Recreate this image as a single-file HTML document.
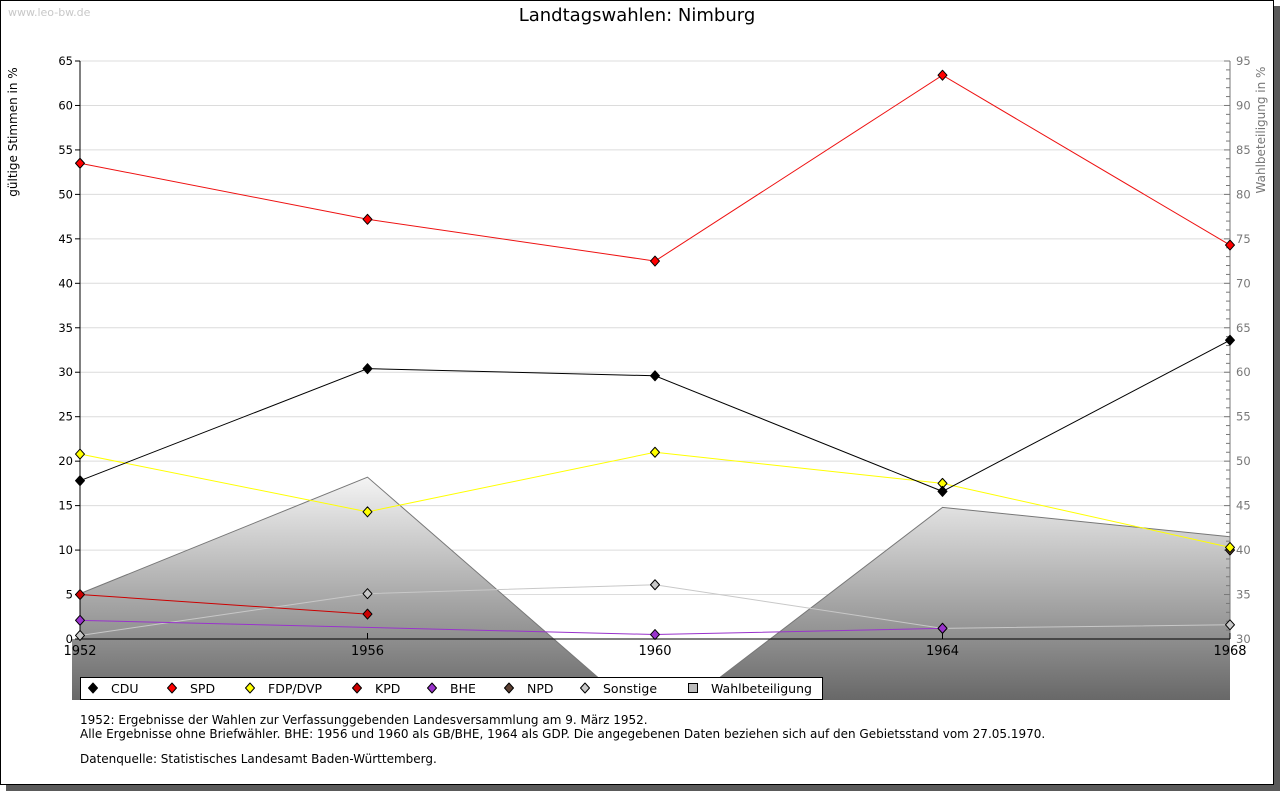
<!DOCTYPE html>
<html><head><meta charset="utf-8"><style>
body{margin:0;background:#fff;width:1280px;height:791px;overflow:hidden;font-family:"DejaVu Sans","Liberation Sans",sans-serif}
svg{position:absolute;left:0;top:0;font-family:"DejaVu Sans","Liberation Sans",sans-serif}
</style></head><body>
<svg width="1280" height="791">
<defs>
<linearGradient id="wg" gradientUnits="userSpaceOnUse" x1="0" y1="477" x2="0" y2="700"><stop offset="0" stop-color="#f4f4f4"/><stop offset="1" stop-color="#686868"/></linearGradient>
<clipPath id="pc"><rect x="72" y="40" width="1159" height="660"/></clipPath>
</defs>
<rect x="6" y="6" width="1274" height="785" fill="#5a5a5a"/>
<rect x="0.5" y="0.5" width="1273" height="784" fill="#fff" stroke="#000"/>
<text x="8" y="16" font-size="11" fill="#c8c8c8">www.leo-bw.de</text>
<text x="637" y="21" font-size="18" text-anchor="middle">Landtagswahlen: Nimburg</text>
<text transform="translate(17,132) rotate(-90)" font-size="12" text-anchor="middle">gültige Stimmen in %</text>
<text transform="translate(1265,130) rotate(-90)" font-size="12" fill="#777" text-anchor="middle">Wahlbeteiligung in %</text>
<g id="grid"></g>
<g id="area" clip-path="url(#pc)"></g>
<g id="axes"></g>
<g id="series"></g>
<g id="legend"></g>
<text x="80" y="724" font-size="12">1952: Ergebnisse der Wahlen zur Verfassunggebenden Landesversammlung am 9. März 1952.</text>
<text x="80" y="738" font-size="12">Alle Ergebnisse ohne Briefwähler. BHE: 1956 und 1960 als GB/BHE, 1964 als GDP. Die angegebenen Daten beziehen sich auf den Gebietsstand vom 27.05.1970.</text>
<text x="80" y="763" font-size="12">Datenquelle: Statistisches Landesamt Baden-Württemberg.</text>
</svg>
<script>
const years=[1952,1956,1960,1964,1968];
const cdu=[17.8,30.4,29.6,16.6,33.6];
const spd=[53.5,47.2,42.5,63.4,44.3];
const fdp=[20.8,14.3,21.0,17.5,10.3];
const kpd=[5.0,2.8,null,null,null];
const bhe=[2.1,null,0.5,1.2,null];
const npd=[null,null,null,null,10.0];
const sonst=[0.4,5.1,6.1,1.2,1.6];
const wahl=[35.1,48.2,20.1,44.8,41.5];
const leftTicks=[0,5,10,15,20,25,30,35,40,45,50,55,60,65];
const rightTicks=[30,35,40,45,50,55,60,65,70,75,80,85,90,95];
const NS='http://www.w3.org/2000/svg';
const X=y=>80+(y-1952)/16*1150;
const Y=v=>639-v*578/65;
const Y2=v=>639-(v-30)*578/65;
function mk(t,a,p){const e=document.createElementNS(NS,t);for(const k in a)e.setAttribute(k,a[k]);document.getElementById(p).appendChild(e);return e;}
leftTicks.forEach(v=>{
 if(v>0){const g=mk('line',{x1:80,x2:1230,y1:Y(v),y2:Y(v),stroke:'#dcdcdc'},'grid');
 
 }
 mk('line',{x1:75,x2:80,y1:Y(v),y2:Y(v),stroke:'#000'},'axes');
 const t=mk('text',{x:73,y:Y(v)+4,'font-size':11.5,'text-anchor':'end'},'axes');t.textContent=v;
 
 
});
for(let v=30;v<=95;v++){mk('line',{x1:v%5?1226:1224,x2:1230,y1:Y2(v),y2:Y2(v),stroke:'#777'},'axes');}
rightTicks.forEach(v=>{const t=mk('text',{x:1236,y:Y2(v)+4,'font-size':11.5,fill:'#777'},'axes');t.textContent=v;
 
 });
let d='M'+X(years[0])+',700 ';years.forEach((y,i)=>d+='L'+X(y)+','+Y2(wahl[i])+' ');d+='L'+X(1968)+',700 Z';
const ar=mk('path',{d:d,fill:'url(#wg)'},'area');


mk('rect',{x:72,y:639,width:8,height:61,fill:'url(#wg)'},'area');
const al=mk('polyline',{points:years.map((y,i)=>X(y)+','+Y2(wahl[i])).join(' '),fill:'none',stroke:'#777'},'area');


mk('line',{x1:80,x2:80,y1:61,y2:639,stroke:'#000'},'axes');
mk('line',{x1:1230,x2:1230,y1:61,y2:639,stroke:'#777'},'axes');
mk('line',{x1:80,x2:1230,y1:639,y2:639,stroke:'#000'},'axes');
years.forEach(y=>{mk('line',{x1:X(y),x2:X(y),y1:633,y2:639,stroke:'#000'},'axes');
 const t=mk('text',{x:X(y),y:655,'font-size':13,'text-anchor':'middle'},'axes');t.textContent=y;
 
 });
function diamond(x,y,c,p){const e=mk('path',{d:`M${x},${y-5}L${x+4.5},${y}L${x},${y+5}L${x-4.5},${y}Z`,fill:c,stroke:'#000','stroke-width':1,'stroke-linejoin':'round'},p);return e;}
const ser=[['sonstige',sonst,'#c8c8c8','#c8c8c8'],['bhe',bhe,'#9933cc','#9933cc'],['kpd',kpd,'#cc0000','#cc0000'],['npd',npd,'#5c4033','#5c4033'],['fdp',fdp,'#ffff00','#ffff00'],['cdu',cdu,'#000000','#000'],['spd',spd,'#ff0000','#ee1111']];
ser.forEach(([n,arr,c,lc])=>{
 let pts=[];arr.forEach((v,i)=>{if(v!==null)pts.push(X(years[i])+','+Y(v));});
 if(pts.length>1){const l=mk('polyline',{points:pts.join(' '),fill:'none',stroke:lc},'series');
 
 }
 arr.forEach((v,i)=>{if(v===null)return;const m=diamond(X(years[i]),Y(v),c,'series');
 
 });
});
const lb=mk('rect',{x:80.5,y:677.5,width:742,height:22,fill:'#fff',stroke:'#000'},'legend');


const leg=[['CDU','#000',93],['SPD','#ff0000',172],['FDP/DVP','#ffff00',250],['KPD','#cc0000',357],['BHE','#9933cc',432],['NPD','#5c4033',509],['Sonstige','#c8c8c8',585]];
leg.forEach(([n,c,x])=>{const m=diamond(x,688,c,'legend');
 
 
 const t=mk('text',{x:x+18,y:693,'font-size':12.5},'legend');t.textContent=n;
 
 });
mk('rect',{x:688.5,y:683.5,width:9,height:9,fill:'#bbb',stroke:'#000'},'legend');
const wt=mk('text',{x:711,y:693,'font-size':12.5},'legend');wt.textContent='Wahlbeteiligung';


</script>
</body></html>
